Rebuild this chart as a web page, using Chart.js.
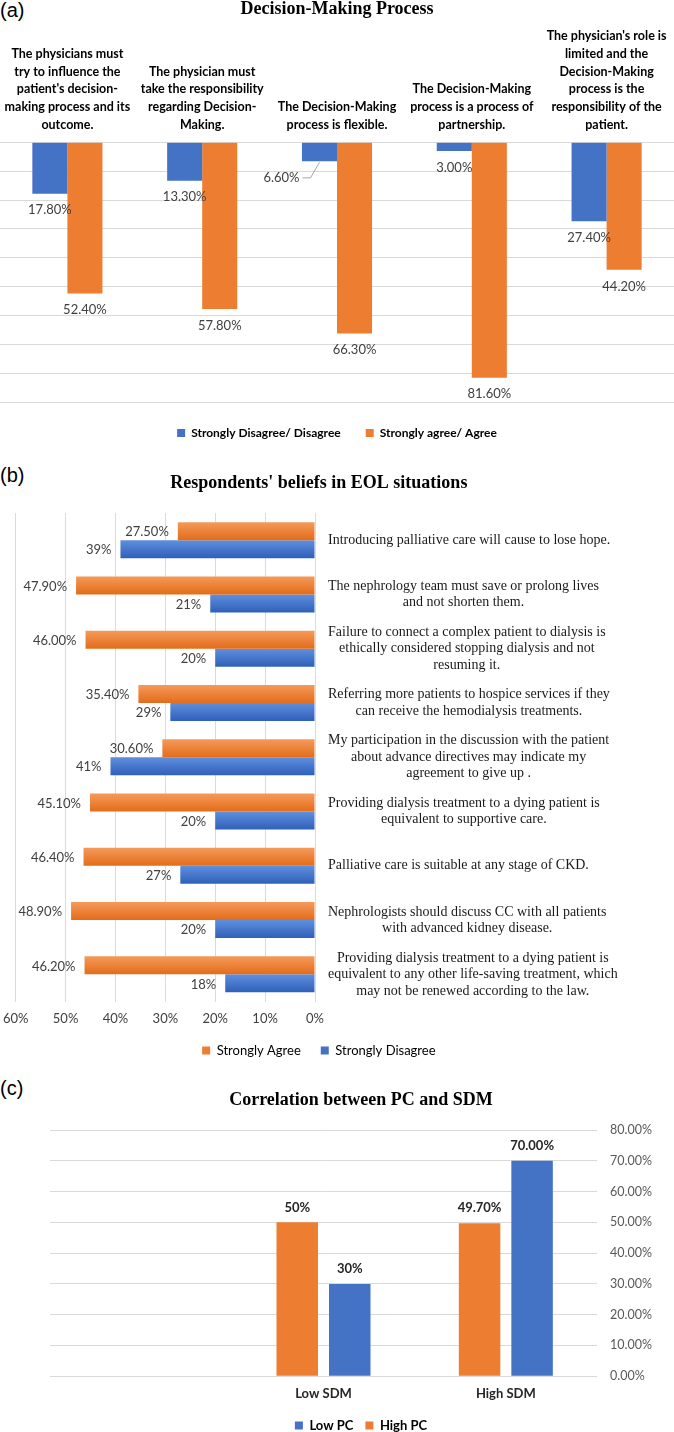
<!DOCTYPE html>
<html lang="en">
<head>
  <meta charset="UTF-8">
  <title>Decision-Making, EOL beliefs, PC and SDM</title>
  <script src="https://cdn.jsdelivr.net/npm/chart.js@4.4.0/dist/chart.umd.min.js"></script>
  <style>
    html, body { margin: 0; padding: 0; overflow: hidden; background: #fff; }
    body { width: 674px; height: 1432px; position: relative; }
    canvas { position: absolute; }
    .tag { position: absolute; left: 0; font: 20px "Liberation Sans", Arial, sans-serif; line-height: 20px; color: #000; }
  </style>
</head>
<body>

  <div class="tag" style="top: 0px;">(a)</div>
  <canvas id="chartA" width="674" height="449" style="left:0; top:0; width:674px; height:449px;"></canvas>

  <div class="tag" style="top: 465px;">(b)</div>
  <canvas id="chartB" width="622" height="593" style="left:0; top:474px; width:622px; height:593px;"></canvas>

  <div class="tag" style="top: 1078px;">(c)</div>
  <canvas id="chartC" width="644" height="351" style="left:28px; top:1091px; width:644px; height:351px;"></canvas>

  <script>
    // ---- data (a) ----
    const catsA = [
      ["The physicians must", "try to influence the", "patient's decision-", "making process and its", "outcome."],
      ["The physician must", "take the responsibility", "regarding Decision-", "Making."],
      ["The Decision-Making", "process is flexible."],
      ["The Decision-Making", "process is a process of", "partnership."],
      ["The physician's role is", "limited and the", "Decision-Making", "process is the", "responsibility of the", "patient."]
    ];
    const disagreeA = [17.8, 13.3, 6.6, 3.0, 27.4];
    const agreeA = [52.4, 57.8, 66.3, 81.6, 44.2];

    // ---- data (b) ----
    const catsB = [
      ["Introducing palliative care will cause to lose hope."],
      ["The nephrology team must save or prolong lives", "and not shorten them."],
      ["Failure to connect a complex patient to dialysis is", "ethically considered stopping dialysis and not", "resuming it."],
      ["Referring more patients to hospice services if they", "can receive the hemodialysis treatments."],
      ["My participation in the discussion with the patient", "about advance directives may indicate my", "agreement to give up ."],
      ["Providing dialysis treatment to a dying patient is", "equivalent to supportive care."],
      ["Palliative care is suitable at any stage of CKD."],
      ["Nephrologists should discuss CC with all patients", "with advanced kidney disease."],
      ["Providing dialysis treatment to a dying patient is", "equivalent to any other life-saving treatment, which", "may not be renewed according to the law."]
    ];
    const agreeB = [27.5, 47.9, 46.0, 35.4, 30.6, 45.1, 46.4, 48.9, 46.2];
    const disagreeB = [39, 21, 20, 29, 41, 20, 27, 20, 18];

    // ---- data (c) ----
    const catsC = ["", "Low SDM", "High SDM"];
    const highPC = [null, 50, 49.7];
    const lowPC = [null, 30, 70];
    const highPCText = ["", "50%", "49.70%"];
    const lowPCText = ["", "30%", "70.00%"];

    const BLUE = '#4472C4';
    const ORANGE = '#ED7D31';
    Chart.defaults.font.family = 'Lato';
    Chart.defaults.animation = false;

    function solidLegend(chart) {
      return chart.data.datasets.map((d, i) => ({
        text: d.label, fillStyle: d.solid, strokeStyle: d.solid, lineWidth: 0,
        hidden: false, datasetIndex: i
      }));
    }

    // ================= (a) =================
    const shiftA = { '0-2': -38 }; // crowded label moved aside with a leader line

    const labelsA = {
      id: 'labelsA',
      afterDatasetsDraw(chart) {
        const ctx = chart.ctx;
        ctx.save();
        ctx.font = '13px Lato';
        ctx.fillStyle = '#404040';
        ctx.textAlign = 'center';
        ctx.textBaseline = 'middle';
        chart.data.datasets.forEach((ds, di) => {
          chart.getDatasetMeta(di).data.forEach((bar, i) => {
            const txt = ds.data[i].toFixed(2) + '%';
            const end = Math.max(bar.y, bar.base);
            const dx = shiftA[di + '-' + i] || 0;
            const y = end + 16.5;
            ctx.fillText(txt, bar.x + dx, y);
            if (dx) {
              const r = bar.x + dx + ctx.measureText(txt).width / 2;
              ctx.strokeStyle = '#a6a6a6';
              ctx.lineWidth = 1;
              ctx.beginPath();
              ctx.moveTo(r + 3, y);
              ctx.lineTo(r + 11, y);
              ctx.lineTo(bar.x, end + 1);
              ctx.stroke();
            }
          });
        });
        ctx.restore();
      }
    };

    new Chart(document.getElementById('chartA'), {
      type: 'bar',
      data: {
        labels: catsA,
        datasets: [
          { label: 'Strongly Disagree/ Disagree', data: disagreeA, backgroundColor: BLUE, solid: BLUE },
          { label: 'Strongly agree/ Agree', data: agreeA, backgroundColor: ORANGE, solid: ORANGE }
        ]
      },
      options: {
        responsive: false,
        categoryPercentage: 0.52,
        barPercentage: 1,
        layout: { padding: 0 },
        plugins: {
          title: {
            display: true, text: 'Decision-Making Process', color: '#000',
            font: { family: '"Liberation Serif"', size: 18, weight: 'bold', lineHeight: 1 },
            padding: { top: 0, bottom: 0 }
          },
          legend: {
            position: 'bottom',
            labels: {
              generateLabels: solidLegend, boxWidth: 8, boxHeight: 8, padding: 25,
              color: '#595959', font: { size: 12, weight: 'bold' }
            }
          },
          tooltip: { enabled: false }
        },
        scales: {
          x: {
            position: 'top',
            grid: { display: false, drawTicks: true, tickLength: 9 },
            border: { display: false },
            ticks: {
              autoSkip: false, maxRotation: 0, padding: 0, color: '#000',
              font: { size: 12.5, weight: 'bold', lineHeight: 1.41 }
            },
            afterFit: s => { s.height = 124.3; s.paddingLeft = 0; s.paddingRight = 0; }
          },
          y: {
            reverse: true, min: 0, max: 90,
            grid: { color: '#D9D9D9', drawTicks: false },
            border: { display: false },
            ticks: { display: false, stepSize: 10 },
            afterFit: s => { s.width = 0; }
          }
        }
      },
      plugins: [labelsA]
    });

    // ================= (b) =================
    const catPctB = 0.663;

    function gradB(light, dark) {
      return (c) => {
        const chart = c.chart, area = chart.chartArea, ys = chart.scales.y;
        if (c.type !== 'data' || !area || !ys) return dark;
        const mid = ys.getPixelForValue(c.dataIndex);
        const half = (area.bottom - area.top) / catsB.length * catPctB / 2;
        if (!isFinite(mid) || !(half > 0)) return dark;
        const top = c.datasetIndex === 0 ? mid - half : mid;
        const g = chart.ctx.createLinearGradient(0, top, 0, top + half);
        g.addColorStop(0, light);
        g.addColorStop(1, dark);
        return g;
      };
    }

    const labelsB = {
      id: 'labelsB',
      afterDatasetsDraw(chart) {
        const ctx = chart.ctx;
        ctx.save();
        ctx.font = '13px Lato';
        ctx.fillStyle = '#404040';
        ctx.textAlign = 'right';
        ctx.textBaseline = 'middle';
        chart.data.datasets.forEach((ds, di) => {
          chart.getDatasetMeta(di).data.forEach((bar, i) => {
            const txt = ds.data[i].toFixed(di === 0 ? 2 : 0) + '%';
            ctx.fillText(txt, Math.min(bar.x, bar.base) - 9, bar.y + 1);
          });
        });
        // statements on the right, each block centred on its own widest line
        ctx.font = '14px "Liberation Serif"';
        ctx.fillStyle = '#1a1a1a';
        ctx.textAlign = 'center';
        const ys = chart.scales.y;
        const left = chart.chartArea.right + 13;
        const lh = 16.5;
        catsB.forEach((lines, i) => {
          const w = Math.max(...lines.map(l => ctx.measureText(l).width));
          const y0 = ys.getPixelForValue(i) - (lines.length - 1) * lh / 2;
          lines.forEach((l, k) => ctx.fillText(l, left + w / 2, y0 + k * lh));
        });
        ctx.restore();
      }
    };

    new Chart(document.getElementById('chartB'), {
      type: 'bar',
      data: {
        labels: catsB,
        datasets: [
          { label: 'Strongly Agree', data: agreeB, backgroundColor: gradB('#F59A5A', '#E36C1A'), solid: ORANGE },
          { label: 'Strongly Disagree', data: disagreeB, backgroundColor: gradB('#5F8FDD', '#2F60BA'), solid: BLUE }
        ]
      },
      options: {
        responsive: false,
        indexAxis: 'y',
        categoryPercentage: catPctB,
        barPercentage: 1,
        layout: { padding: { left: 15.7 } },
        plugins: {
          title: {
            display: true, text: "Respondents' beliefs in EOL situations", color: '#000',
            font: { family: '"Liberation Serif"', size: 18, weight: 'bold', lineHeight: 1 },
            padding: { top: 0, bottom: 21 }
          },
          legend: {
            position: 'bottom',
            labels: {
              generateLabels: solidLegend, boxWidth: 8, boxHeight: 8, padding: 20,
              color: '#404040', font: { size: 13 }
            }
          },
          tooltip: { enabled: false }
        },
        scales: {
          x: {
            reverse: true, min: 0, max: 60,
            grid: { color: '#D6DCE5', drawTicks: false },
            border: { display: false },
            ticks: { stepSize: 10, padding: 10, color: '#404040', font: { size: 13 }, callback: v => v + '%' },
            afterFit: s => { s.height = 22.5; s.paddingLeft = 0; s.paddingRight = 0; }
          },
          y: {
            position: 'right',
            grid: { display: false, drawTicks: false },
            border: { display: false },
            ticks: { display: false },
            afterFit: s => { s.width = 307; }
          }
        }
      },
      plugins: [labelsB]
    });

    // ================= (c) =================
    const labelsC = {
      id: 'labelsC',
      afterDatasetsDraw(chart) {
        const ctx = chart.ctx;
        const texts = [highPCText, lowPCText];
        ctx.save();
        ctx.font = 'bold 13px Lato';
        ctx.fillStyle = '#262626';
        ctx.textAlign = 'center';
        ctx.textBaseline = 'middle';
        chart.data.datasets.forEach((ds, di) => {
          chart.getDatasetMeta(di).data.forEach((bar, i) => {
            if (ds.data[i] == null) return;
            ctx.fillText(texts[di][i], bar.x, bar.y - 15);
          });
        });
        ctx.restore();
      }
    };

    new Chart(document.getElementById('chartC'), {
      type: 'bar',
      data: {
        labels: catsC,
        datasets: [
          { label: 'High PC', data: highPC, backgroundColor: ORANGE, solid: ORANGE },
          { label: 'Low PC', data: lowPC, backgroundColor: BLUE, solid: BLUE }
        ]
      },
      options: {
        responsive: false,
        categoryPercentage: 0.576,
        barPercentage: 0.79,
        layout: { padding: { left: 22 } },
        plugins: {
          title: {
            display: true, text: 'Correlation between PC and SDM', color: '#000',
            font: { family: '"Liberation Serif"', size: 18, weight: 'bold', lineHeight: 1 },
            padding: { top: 0, bottom: 21 }
          },
          legend: {
            position: 'bottom',
            labels: {
              generateLabels: c => solidLegend(c).reverse(), boxWidth: 8, boxHeight: 8, padding: 12,
              color: '#262626', font: { size: 13, weight: 'bold' }
            }
          },
          tooltip: { enabled: false }
        },
        scales: {
          x: {
            grid: { display: false, drawTicks: false },
            border: { display: false },
            ticks: { padding: 9.5, color: '#262626', font: { size: 13, weight: 'bold' } },
            afterFit: s => { s.height = 30.8; s.paddingLeft = 0; s.paddingRight = 0; }
          },
          y: {
            position: 'right', min: 0, max: 80,
            grid: { color: '#D9D9D9', drawTicks: false },
            border: { display: false },
            ticks: { stepSize: 10, padding: 13, color: '#595959', font: { size: 12.5 }, callback: v => v.toFixed(2) + '%' },
            afterFit: s => { s.width = 75; }
          }
        }
      },
      plugins: [labelsC]
    });
  </script>
</body>
</html>
